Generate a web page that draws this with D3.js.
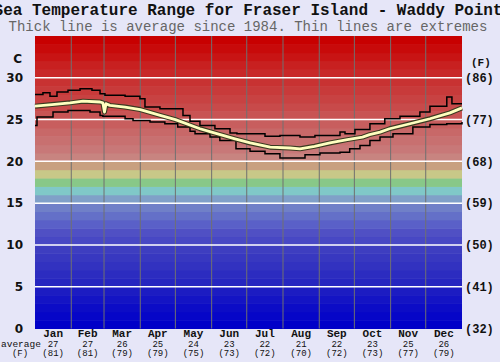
<!DOCTYPE html>
<html><head><meta charset="utf-8">
<script src="https://cdn.jsdelivr.net/npm/d3@7"></script>
<style>html,body{margin:0;padding:0;background:#e6e6f8;}svg{display:block;}</style>
</head><body>
<script>
const months = ["Jan","Feb","Mar","Apr","May","Jun","Jul","Aug","Sep","Oct","Nov","Dec"];
const monthDays = [31,28,31,30,31,30,31,31,30,31,30,31];
const monthAvgC = [27,27,26,25,24,23,22,21,22,23,25,26];
const monthAvgF = [81,81,79,79,75,73,72,70,72,73,77,79];
const celsiusTicks = [0,5,10,15,20,25,30];
const fahrenheitTicks = ["(32)","(41)","(50)","(59)","(68)","(77)","(86)"];

// average line: day of year, °C
const avgDays = [0,14.5,30,41,55.6,58,59.4,60.7,64,77,90,107,120,141,151,171,184,201,218,226.5,239,252,267,280,286,295,303,320.5,337.6,354.7,365];
const avgTemp = [26.6,26.8,27.0,27.2,27.1,27.0,25.9,26.9,26.7,26.5,26.2,25.5,25.0,23.9,23.5,22.7,22.2,21.7,21.6,21.5,21.8,22.2,22.6,22.9,23.2,23.5,23.9,24.5,25.1,25.8,26.4];
// maximum extremes (step after)
const maxDays = [0,6.8,12.8,18.8,28.2,38.5,48.7,55.6,59.8,77,89.7,94,106.8,126.5,132.5,141,153.8,166.7,172.6,196.6,209.4,226.5,239.3,260.7,265,273.5,286.3,299,312,329,337.6,352,356.4,365];
const maxTemp = [28.0,28.2,27.8,28.3,28.5,28.7,28.5,28.1,27.9,27.8,27.5,26.5,26.3,25.5,24.8,24.3,23.9,23.4,23.3,23.0,23.1,22.9,23.1,23.5,23.3,23.8,24.5,25.1,25.4,25.9,26.6,27.7,26.9,26.9];
// minimum extremes (step after)
const minDays = [0,1.7,15.4,28.2,47,55.6,58,77,83.8,98.3,111,122,132.5,136.8,149.6,158,171.8,183.8,196.6,209.4,230.8,243.6,260.7,269,277.8,286.3,294.9,306,323,337.6,352,365];
const minTemp = [24.3,25.3,25.9,26.1,25.9,25.5,25.4,25.1,24.9,24.7,24.5,24.1,23.6,23.3,22.9,22.5,21.5,21.2,20.9,20.4,20.8,21.0,21.1,21.5,21.9,22.5,22.9,23.3,24.1,24.4,24.5,24.7];

// band colours per 1°C from 0 upward
const bandColors = ["#0000c8","#0606c8","#0c0cc6","#1414c4","#1c1cc2",
  "#2626c0","#2c2cc0","#3232c0","#3838c0","#3e3ec0",
  "#4848c4","#5050c4","#5a60c8","#6470c8","#7080c8",
  "#80a0c8","#80c8c8","#88c888","#c8c888","#c8a080",
  "#c88480","#c87878","#c87070","#c86868","#c85e5e",
  "#c85454","#c84a4a","#c84242","#c83a3a","#c83232",
  "#c82828","#c82020","#c81414","#c80a0a","#c80000"];

const W = 500, H = 362;
const svg = d3.select("body").append("svg").attr("width", W).attr("height", H);
const x = d3.scaleLinear().domain([0,365]).range([35,462]);
const y = d3.scaleLinear().domain([0,35]).range([328.5,36]);

// bands
svg.append("g").selectAll("rect").data(bandColors).join("rect")
  .attr("x", x(0)).attr("width", x(365)-x(0))
  .attr("y", (c,i)=>y(i+1)).attr("height", (c,i)=>y(i)-y(i+1)+0.5)
  .attr("fill", c=>c);

// month boundaries
const cum = [0]; monthDays.forEach(d=>cum.push(cum[cum.length-1]+d));
svg.append("g").selectAll("line").data(cum.slice(1,12)).join("line")
  .attr("x1", d=>x(d)).attr("x2", d=>x(d)).attr("y1", y(35)).attr("y2", y(0))
  .attr("stroke", "#707070").attr("stroke-width", 1);

// white horizontal lines
svg.append("g").selectAll("line").data(celsiusTicks.filter(t=>t>0)).join("line")
  .attr("x1", x(0)).attr("x2", x(365)).attr("y1", d=>y(d)).attr("y2", d=>y(d))
  .attr("stroke", "#ffffff").attr("stroke-width", 1.5);

// lines
const stepLine = d3.line().x(d=>x(d[0])).y(d=>y(d[1])).curve(d3.curveStepAfter);
const maxPts = maxDays.map((d,i)=>[d,maxTemp[i]]);
const minPts = minDays.map((d,i)=>[d,minTemp[i]]);
svg.append("path").attr("d", stepLine(maxPts)).attr("fill","none").attr("stroke","#000").attr("stroke-width",1.5);
svg.append("path").attr("d", stepLine(minPts)).attr("fill","none").attr("stroke","#000").attr("stroke-width",1.5);
const avgLine = d3.line().x(d=>x(d[0])).y(d=>y(d[1]));
const avgPts = avgDays.map((d,i)=>[d,avgTemp[i]]);
svg.append("path").attr("d", avgLine(avgPts)).attr("fill","none").attr("stroke","#3a3a20").attr("stroke-width",5).attr("stroke-linejoin","round");
svg.append("path").attr("d", avgLine(avgPts)).attr("fill","none").attr("stroke","#ffffc0").attr("stroke-width",2.8).attr("stroke-linejoin","round");

// left axis labels
svg.append("g").selectAll("text").data(celsiusTicks).join("text")
  .attr("x", 23).attr("y", d=>y(d)).attr("dy","0.36em").attr("text-anchor","end")
  .attr("font-family","DejaVu Sans").attr("font-weight","bold").attr("font-size","12px").attr("fill","#111")
  .text(d=>d);
svg.append("text").attr("x",22).attr("y",59).attr("dy","0.36em").attr("text-anchor","end")
  .attr("font-family","DejaVu Sans").attr("font-weight","bold").attr("font-size","12px").attr("fill","#111").text("C");
// right axis labels
svg.append("g").selectAll("text").data(fahrenheitTicks).join("text")
  .attr("x", 465).attr("y", (d,i)=>y(celsiusTicks[i])).attr("dy","0.36em")
  .attr("font-family","Liberation Mono").attr("font-weight","bold").attr("font-size","12px").attr("fill","#111")
  .text(d=>d);
svg.append("text").attr("x",471).attr("y",62).attr("dy","0.36em")
  .attr("font-family","Liberation Mono").attr("font-weight","bold").attr("font-size","11px").attr("fill","#111").text("(F)");

// month labels
const mg = svg.append("g").attr("font-family","Liberation Mono").attr("font-weight","bold").attr("text-anchor","middle").attr("fill","#111");
months.forEach((m,i)=>{
  const cx = x((cum[i]+cum[i+1])/2);
  mg.append("text").attr("x",cx).attr("y",337).attr("font-size","11px").text(m);
  mg.append("text").attr("x",cx).attr("y",346.5).attr("font-size","9px").attr("font-weight","normal").text(monthAvgC[i]);
  mg.append("text").attr("x",cx).attr("y",356).attr("font-size","9px").attr("font-weight","normal").text("("+monthAvgF[i]+")");
});
svg.append("text").attr("x",1).attr("y",346.5).attr("font-family","Liberation Mono").attr("font-size","9.5px").attr("fill","#111").text("average");
svg.append("text").attr("x",20).attr("y",356).attr("text-anchor","middle").attr("font-family","Liberation Mono").attr("font-size","9px").attr("fill","#111").text("(F)");

// titles
svg.append("text").attr("x",248).attr("y",15).attr("text-anchor","middle")
  .attr("font-family","Liberation Mono").attr("font-weight","bold").attr("font-size","16px").attr("fill","#111")
  .text("Sea Temperature Range for Fraser Island - Waddy Point");
svg.append("text").attr("x",248).attr("y",31).attr("text-anchor","middle")
  .attr("font-family","Liberation Mono").attr("font-size","14px").attr("fill","#666")
  .text("Thick line is average since 1984. Thin lines are extremes");
</script>
</body></html>
